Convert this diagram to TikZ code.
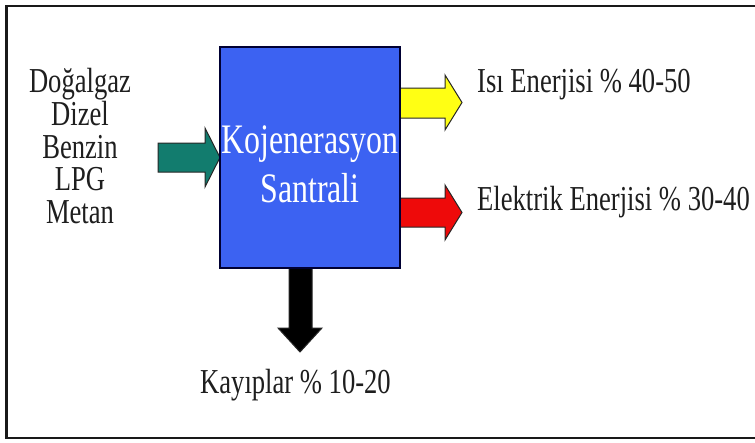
\documentclass[tikz,border=0pt]{standalone}
\usepackage{fontspec}
\setmainfont{Liberation Serif}
\usetikzlibrary{calc}
\definecolor{plantblue}{RGB}{60,98,242}
\definecolor{inteal}{RGB}{18,124,110}
\definecolor{heatyellow}{RGB}{255,255,20}
\definecolor{powerred}{RGB}{238,10,10}
\definecolor{inktext}{RGB}{30,30,30}
% narrowed serif text
\newcommand\narrowtext[1]{\scalebox{0.76}[1]{#1}}
\tikzset{
  txt/.style={inner sep=0pt, anchor=base, text=inktext, font=\fontsize{35}{40}\selectfont},
  plainttxt/.style={},
  blockarrow/.style={draw=black!85, line width=1pt, line join=miter},
  plant/.style={draw=black!80!blue, line width=1.2pt, fill=plantblue, inner sep=0pt,
                minimum width=180pt, minimum height=221pt},
}
\begin{document}
\begin{tikzpicture}[x=1pt,y=-1pt]
\useasboundingbox (0,0) rectangle (755,442);
% outer frame, open past the right edge
\draw[line width=2.5pt, black!90] (770,6) -- (6.5,6) -- (6.5,438) -- (770,438);

% block arrows first, so the plant block covers their inner ends
\draw[blockarrow, fill=inteal] (158,143) -- (205,143) -- (205,128) -- (220,157.5) -- (205,187) -- (205,172) -- (158,172) -- cycle;
\draw[blockarrow, fill=heatyellow] (400,88) -- (445,88) -- (445,75) -- (462,102.5) -- (445,130) -- (445,118) -- (400,118) -- cycle;
\draw[blockarrow, fill=powerred] (400,198) -- (445,198) -- (445,185) -- (462,212.5) -- (445,240) -- (445,227) -- (400,227) -- cycle;
\draw[blockarrow, fill=black] (289,268) -- (289,328) -- (278,328) -- (300,352) -- (322,328) -- (312,328) -- (312,268) -- cycle;

% plant block
\node[plant] (plant) at (310,157.5) {};
\node[txt, text=white, font=\fontsize{42}{49}\selectfont] (kojen) at (310,153) {\narrowtext{Kojenerasyon}};
\node[txt, text=white, font=\fontsize{42}{49}\selectfont] (santral) at (310,202) {\narrowtext{Santrali}};

% fuels
\node[txt] (f1) at (80,92) {\narrowtext{Doğalgaz}};
\node[txt] (f2) at (80,125) {\narrowtext{Dizel}};
\node[txt] (f3) at (80,158) {\narrowtext{Benzin}};
\node[txt] (f4) at (80,190) {\narrowtext{LPG}};
\node[txt] (f5) at (80,223) {\narrowtext{Metan}};

% outputs
\node[txt, anchor=base west] (heat) at (477,92) {\narrowtext{Isı Enerjisi \% 40-50}};
\node[txt, anchor=base west] (elec) at (477,210) {\narrowtext{Elektrik Enerjisi \% 30-40}};
\node[txt, anchor=base west] (loss) at (200,393) {\narrowtext{Kayıplar \% 10-20}};
\end{tikzpicture}
\end{document}
